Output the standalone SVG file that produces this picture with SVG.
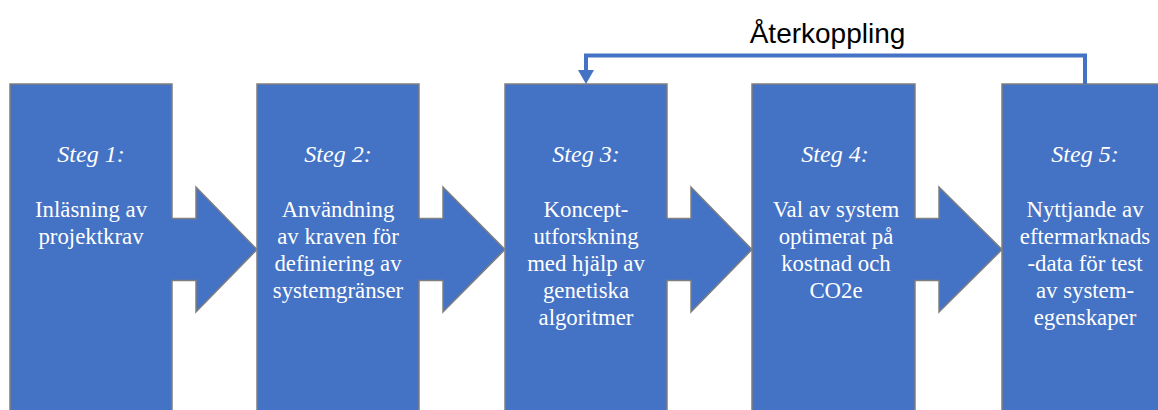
<svg xmlns="http://www.w3.org/2000/svg" width="1158" height="410" viewBox="0 0 1158 410">
<style>
.box{fill:#4472C4;stroke:#7F7F7F;stroke-width:1.5}
.arf{fill:#4472C4;stroke:none}
.ars{fill:none;stroke:#7F7F7F;stroke-width:1.5;stroke-linejoin:miter}
.st{font-family:"Liberation Serif","Times New Roman",serif;font-style:italic;font-size:24px;fill:#FFFFFF;text-anchor:middle}
.tx{font-family:"Liberation Serif","Times New Roman",serif;font-size:22.8px;fill:#FFFFFF;text-anchor:middle}
.fb{fill:none;stroke:#4472C4;stroke-width:4}
.lbl{font-family:"Liberation Sans",Arial,sans-serif;font-size:28px;fill:#000000;text-anchor:middle}
</style>
<g id="node1">
<rect class="box" x="10" y="84" width="162" height="340"/>
<text class="st" x="91" y="162">Steg 1:</text>
<text class="tx" x="91" y="217">Inläsning av</text>
<text class="tx" x="91" y="244">projektkrav</text>
</g>
<g id="node2">
<rect class="box" x="257" y="84" width="162" height="340"/>
<text class="st" x="338" y="162">Steg 2:</text>
<text class="tx" x="338" y="217">Användning</text>
<text class="tx" x="338" y="244">av kraven för</text>
<text class="tx" x="338" y="271">definiering av</text>
<text class="tx" x="338" y="298">systemgränser</text>
</g>
<g id="node3">
<rect class="box" x="505" y="84" width="162" height="340"/>
<text class="st" x="586" y="162">Steg 3:</text>
<text class="tx" x="586" y="217">Koncept-</text>
<text class="tx" x="586" y="244">utforskning</text>
<text class="tx" x="586" y="271">med hjälp av</text>
<text class="tx" x="586" y="298">genetiska</text>
<text class="tx" x="586" y="325">algoritmer</text>
</g>
<g id="node4">
<rect class="box" x="752" y="84" width="163" height="340"/>
<text class="st" x="835" y="162">Steg 4:</text>
<text class="tx" x="836" y="217">Val av system</text>
<text class="tx" x="836" y="244">optimerat på</text>
<text class="tx" x="836" y="271">kostnad och</text>
<text class="tx" x="836" y="298">CO2e</text>
</g>
<g id="node5">
<rect class="box" x="1002" y="84" width="166" height="340"/>
<text class="st" x="1085" y="162">Steg 5:</text>
<text class="tx" x="1085" y="217">Nyttjande av</text>
<text class="tx" x="1085" y="244">eftermarknads</text>
<text class="tx" x="1085" y="271">-data för test</text>
<text class="tx" x="1085" y="298">av system-</text>
<text class="tx" x="1085" y="325">egenskaper</text>
</g>
<g id="connectors">
<path class="arf" d="M170 218.5H196V187L257 249.5L196 312V280.5H170Z"/>
<path class="ars" d="M172 218.5H196V187L257 249.5L196 312V280.5H172"/>
<path class="arf" d="M417 218.5H443V187L505 249.5L443 312V280.5H417Z"/>
<path class="ars" d="M419 218.5H443V187L505 249.5L443 312V280.5H419"/>
<path class="arf" d="M665 218.5H691V187L752 249.5L691 312V280.5H665Z"/>
<path class="ars" d="M667 218.5H691V187L752 249.5L691 312V280.5H667"/>
<path class="arf" d="M913 218.5H939V187L1002 249.5L939 312V280.5H913Z"/>
<path class="ars" d="M915 218.5H939V187L1002 249.5L939 312V280.5H915"/>
<path class="fb" d="M1085 84V55.5H586V71"/>
<polygon fill="#4472C4" points="578,70 594,70 586,84"/>
</g>
<text class="lbl" x="827.5" y="43">Återkoppling</text>
</svg>
